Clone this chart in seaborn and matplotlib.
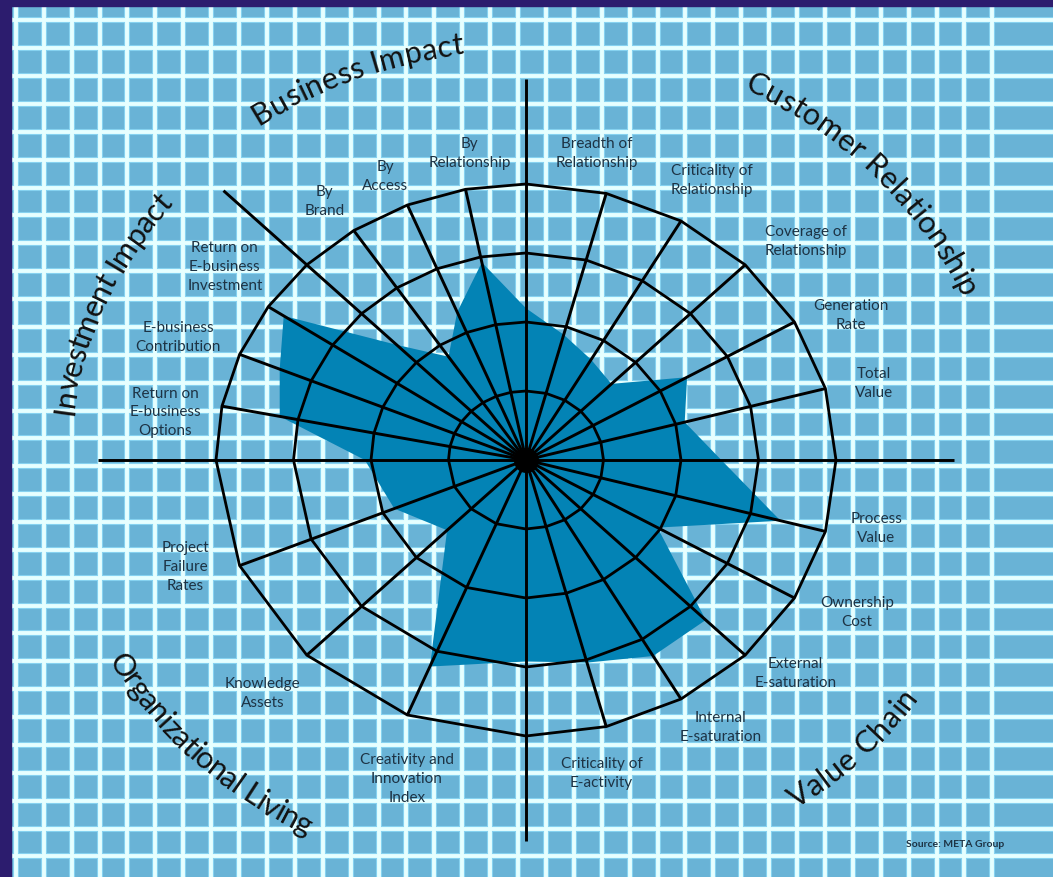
import numpy as np
import pandas as pd
import matplotlib
matplotlib.use("Agg")
import matplotlib.pyplot as plt
import seaborn as sns
from matplotlib.patches import Rectangle
from matplotlib.font_manager import FontProperties
from matplotlib.transforms import offset_copy

sns.set_style("white")
plt.rcParams["font.family"] = ["Lato", "DejaVu Sans"]

# --- data (score as share of the outer ring) ---
customer_metrics = ["Breadth of\nRelationship", "Criticality of\nRelationship",
                    "Coverage of\nRelationship", "Generation\nRate", "Total\nValue"]
customer_scores = [0.47, 0.42, 0.39, 0.60, 0.53]

value_chain_metrics = ["Process\nValue", "Ownership\nCost", "External\nE-saturation",
                       "Internal\nE-saturation", "Criticality of\nE-activity"]
value_chain_scores = [0.85, 0.49, 0.82, 0.82, 0.76]

org_metrics = ["Creativity and\nInnovation\nIndex", "Knowledge\nAssets", "Project\nFailure\nRates"]
org_scores = [0.81, 0.36, 0.46]

investment_metrics = ["Return on\nE-business\nOptions", "E-business\nContribution",
                      "Return on\nE-business\nInvestment"]
investment_scores = [0.81, 0.86, 0.94]

business_metrics = ["By\nBrand", "By\nAccess", "By\nRelationship"]
business_scores = [0.45, 0.58, 0.73]

# sector of each category (degrees, metrics run from first to second bound)
categories = ["Customer Relationship", "Value Chain", "Organizational Living",
              "Investment Impact", "Business Impact"]
category_sectors = [(90, 0), (360, 270), (270, 180), (180, 135), (135, 90)]

# the axis lines between categories also carry a point of the outline
divider_angles = [0, 90, 135, 180, 270]
divider_scores = [0.63, 0.55, 0.59, 0.52, 0.73]

source_note = "Source: META Group"

# --- build the spoke table ---
metric_lists = [customer_metrics, value_chain_metrics, org_metrics,
                investment_metrics, business_metrics]
score_lists = [customer_scores, value_chain_scores, org_scores,
               investment_scores, business_scores]
rows = []
for cat, (a0, a1), names, scores in zip(categories, category_sectors, metric_lists, score_lists):
    n = len(names)
    for i, (name, s) in enumerate(zip(names, scores)):
        ang = (a0 + (i + 1) * (a1 - a0) / (n + 1)) % 360
        rows.append({"category": cat, "metric": name, "angle": ang, "score": s})
for ang, s in zip(divider_angles, divider_scores):
    rows.append({"category": None, "metric": "", "angle": ang % 360, "score": s})
df = pd.DataFrame(rows).sort_values("angle").reset_index(drop=True)
df["theta"] = np.radians(df["angle"])

# hand nudges of the metric labels (pixels, right / down)
label_nudge = {
    "By\nRelationship": (15, 12), "By\nAccess": (-1, 16), "By\nBrand": (2, 11),
    "Return on\nE-business\nInvestment": (3, -13), "E-business\nContribution": (-10, 1),
    "Return on\nE-business\nOptions": (-2, 15), "Project\nFailure\nRates": (-3, -19),
    "Knowledge\nAssets": (-5, 2), "Creativity and\nInnovation\nIndex": (21, 17),
    "Criticality of\nE-activity": (-19, -2), "Internal\nE-saturation": (12, -16),
    "External\nE-saturation": (11, -18), "Ownership\nCost": (14, -11),
    "Process\nValue": (-3, -17), "Total\nValue": (-5, 7), "Generation\nRate": (8, 17),
    "Coverage of\nRelationship": (21, 11), "Criticality of\nRelationship": (3, 2),
    "Breadth of\nRelationship": (-24, 7),
}

# --- colours ---
navy = "#2c1c6e"
cell = "#69b3d6"
grid_white = "#e6ffff"
grid_halo = "#86d2f0"
fill_blue = "#0383b5"
text_dark = "#1d3344"

W, H = 1053, 878
fig = plt.figure(figsize=(W / 100, H / 100), dpi=100, facecolor=cell)

# background graph paper
bg = fig.add_axes([0, 0, 1, 1])
bg.set_xlim(0, W)
bg.set_ylim(H, 0)
bg.axis("off")
for x in np.arange(992.3, 0, -27.9):
    bg.axvline(x, color=grid_halo, lw=4.4, zorder=1)
    bg.axvline(x, color=grid_white, lw=2.8, zorder=2)
for y in np.concatenate([np.arange(801.7, 0, -27.87), np.arange(801.7 + 27.87, H, 27.87)]):
    bg.axhline(y, color=grid_halo, lw=4.4, zorder=1)
    bg.axhline(y, color=grid_white, lw=2.8, zorder=2)
bg.add_patch(Rectangle((0, 0), W, 7, color=navy, zorder=5))
bg.add_patch(Rectangle((0, 0), 11, H, color=navy, zorder=5))

# radar
rmax = 1.5
ax = fig.add_axes([61 / W, 3 / H, 930 / W, 828 / H], projection="polar")
ax.set_aspect("auto")
ax.patch.set_alpha(0)
ax.spines["polar"].set_visible(False)
ax.grid(False)

theta_closed = np.append(df["theta"].values, df["theta"].values[0])
score_closed = np.append(df["score"].values, df["score"].values[0])
ax.fill(theta_closed, score_closed, color=fill_blue, lw=0, zorder=1)

rings = [0.25, 0.5, 0.75, 1.0]
ring_df = pd.DataFrame({
    "theta": np.tile(theta_closed, len(rings)),
    "r": np.repeat(rings, len(theta_closed)),
    "ring": np.repeat(np.arange(len(rings)), len(theta_closed)),
})
sns.lineplot(data=ring_df, x="theta", y="r", units="ring", estimator=None, sort=False,
             color="black", linewidth=2.0, ax=ax, legend=False, zorder=2)

for ang, th in zip(df["angle"], df["theta"]):
    length = 1.38 if ang in divider_angles else 1.0
    ax.plot([th, th], [0, length], color="black", lw=2.1, zorder=2,
            solid_capstyle="butt")
ax.plot(0, 0, "o", color="black", ms=17, zorder=3)

ax.set_xticks([])
ax.set_yticks([])
ax.set_xlabel("")
ax.set_ylabel("")
ax.set_ylim(0, rmax)

# metric labels
for _, row in df[df["metric"] != ""].iterrows():
    dx, dy = label_nudge.get(row["metric"], (0, 0))
    tr = offset_copy(ax.transData, fig=fig, x=dx, y=-dy, units="dots")
    ax.text(row["theta"], 1.18, row["metric"], ha="center", va="center",
            fontsize=11, color=text_dark, linespacing=1.45, zorder=4, transform=tr)

# curved category titles
renderer = fig.canvas.get_renderer()
title_prop = FontProperties(family="Lato", size=22)
title_arcs = {  # start, end angle of first/last letter, radius
    "Business Impact": (124, 98.3, 1.52),
    "Customer Relationship": (61.3, 23.9, 1.55),
    "Investment Impact": (173, 141.3, 1.5),
    "Organizational Living": (209.7, 241.4, 1.5),
    "Value Chain": (306.1, 324.9, 1.5),
}


def text_width(s):
    return renderer.get_text_width_height_descent(s, title_prop, ismath=False)[0]


def arc_text(label, start, end, r):
    bar = text_width("|")
    centers = []
    for i in range(len(label)):
        a = text_width(label[:i] + "|") - bar if i > 0 else 0.0
        b = text_width(label[:i + 1] + "|") - bar
        centers.append((a + b) / 2)
    centers = np.array(centers)
    frac = (centers - centers[0]) / (centers[-1] - centers[0])
    phi = np.radians(np.linspace(start, end, 600))
    pts = ax.transData.transform(np.column_stack([phi, np.full_like(phi, r)]))
    s = np.concatenate([[0], np.cumsum(np.hypot(*np.diff(pts, axis=0).T))])
    sign = np.sign(end - start)
    eps = 1e-3
    for ch, f in zip(label, frac):
        if ch == " ":
            continue
        p = np.interp(f * s[-1], s, phi)
        d = (ax.transData.transform((p + sign * eps, r))
             - ax.transData.transform((p - sign * eps, r)))
        rot = np.degrees(np.arctan2(d[1], d[0]))
        ax.text(p, r, ch, rotation=rot, rotation_mode="anchor", ha="center",
                va="center", fontproperties=title_prop, color="#111111", zorder=4)


for name in categories:
    arc_text(name, *title_arcs[name])

fig.text(955 / W, 1 - 845 / H, source_note, ha="center", va="center",
         fontsize=7.5, fontweight="bold", color=text_dark)

fig.savefig("out.png", dpi=100, facecolor=cell)
